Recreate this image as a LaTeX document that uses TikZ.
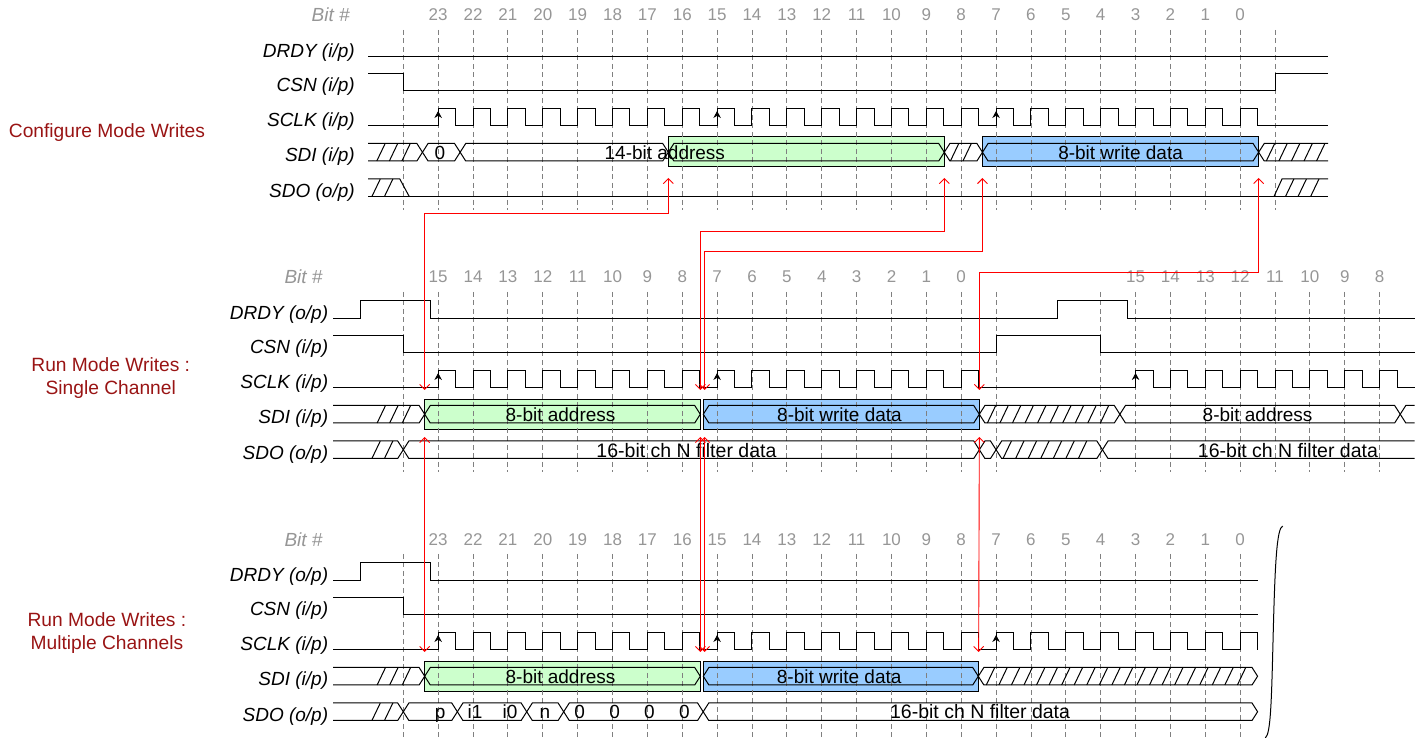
\documentclass[tikz,border=0pt]{standalone}
\usepackage{fontspec}
\setmainfont{Liberation Sans}
\usetikzlibrary{arrows.meta,calc}
\definecolor{mode_red}{RGB}{153, 20, 20}
\definecolor{bit_gray}{RGB}{150, 150, 150}
\definecolor{grid_gray}{RGB}{128, 128, 128}
\definecolor{addr_green}{RGB}{204, 255, 204}
\definecolor{data_blue}{RGB}{153, 204, 255}
\tikzstyle{sig}=[line width=1pt,black]
\tikzstyle{gridln}=[grid_gray,line width=0.9pt,dash pattern=on 5pt off 3.5pt]
\tikzstyle{sigl}=[anchor=base east,inner sep=0pt,font=\fontsize{19}{22}\selectfont\itshape]
\tikzstyle{bitn}=[inner sep=0pt,text=bit_gray,font=\fontsize{17}{20}\selectfont]
\tikzstyle{bith}=[anchor=east,inner sep=0pt,text=bit_gray,font=\fontsize{19}{22}\selectfont\itshape]
\tikzstyle{ttl}=[align=center,inner sep=0pt,text=mode_red,font=\fontsize{19.2}{22.6}\selectfont]
\tikzstyle{dat}=[anchor=base,inner sep=0pt,font=\fontsize{19}{22}\selectfont]
\tikzstyle{datw}=[anchor=base,inner sep=0pt,font=\fontsize{19.5}{23}\selectfont]
\tikzstyle{gbox}=[fill=addr_green,draw=black,line width=0.8pt]
\tikzstyle{bbox}=[fill=data_blue,draw=black,line width=0.8pt]
\tikzstyle{rd}=[red,line width=0.9pt,{Straight Barb[length=5pt,width=10pt]}-{Straight Barb[length=5pt,width=10pt]}]
\tikzstyle{edg}=[-{Stealth[length=7pt,width=7.5pt]},line width=0.8pt]
\newcommand{\busseg}[4]{\draw[sig] (#1,{(#3+#4)/2}) -- ({#1+0.16},#3) -- ({#2-0.16},#3) -- (#2,{(#3+#4)/2}) -- ({#2-0.16},#4) -- ({#1+0.16},#4) -- cycle;}
\newcommand{\busin}[4]{\draw[sig] (#1,#3) -- ({#2-0.16},#3) -- (#2,{(#3+#4)/2}) -- ({#2-0.16},#4) -- (#1,#4);}
\newcommand{\busout}[4]{\draw[sig] (#2,#3) -- ({#1+0.16},#3) -- (#1,{(#3+#4)/2}) -- ({#1+0.16},#4) -- (#2,#4);}
\newcommand{\hatchseg}[4]{\pgfmathtruncatemacro\hn{floor((#2-#1-0.24)/0.36)}%
  \foreach \k in {0,...,\hn}{\draw[sig] ({#1+0.36*\k},#4) -- ({#1+0.36*\k+0.24},#3);}}

\begin{document}
\begin{tikzpicture}[x=34.87pt, y=-1pt]
    \useasboundingbox (-11.566,0) rectangle (29.272,738);

    % configure mode
    \node [style=ttl] (t1) at (-8.5, 133) {Configure Mode Writes};
    \node [style=bith] (h1) at (-1.53, 15) {Bit \#};
    \node [style=sigl] (l11) at (-1.387, 57.3) {DRDY (i/p)};
    \node [style=sigl] (l12) at (-1.387, 92) {CSN (i/p)};
    \node [style=sigl] (l13) at (-1.387, 127) {SCLK (i/p)};
    \node [style=sigl] (l14) at (-1.387, 162) {SDI (i/p)};
    \node [style=sigl] (l15) at (-1.387, 197.5) {SDO (o/p)};
    \foreach \i in {1,...,24} {\pgfmathtruncatemacro\bn{24-\i}
        \node [style=bitn] (a\i) at (\i, 15) {\bn};}
    \draw [style=gbox] (7.6, 136.7) rectangle (15.515, 166.7);
    \draw [style=bbox] (16.61, 136.7) rectangle (24.53, 166.7);
    \foreach \i in {0,...,25} \draw [style=gridln] (\i, 30) -- (\i, 210);
    \draw [style=sig] (-1.012, 56.3) -- (26.52, 56.3);
    \draw [style=sig] (-1.012, 73.5) -- (0, 73.5) -- (0, 91) -- (25, 91) -- (25, 73.5) -- (26.52, 73.5);
    \draw [style=sig] (-1.012, 126) -- (1, 126) (25, 126) -- (26.52, 126);
    \foreach \i in {1,...,24} \draw [style=sig] (\i, 126) -- (\i, 108.5) -- (\i+0.5, 108.5) -- (\i+0.5, 126) -- (\i+1, 126);
    \foreach \i in {1,9,17} \draw [style=edg] (\i, 124) -- (\i, 111);
    \busin{-1.012}{0.55}{143.5}{161} \hatchseg{-0.76}{0.39}{143.5}{161}
    \busseg{0.55}{1.63}{143.5}{161}
    \busseg{1.63}{7.6}{143.5}{161}
    \busseg{7.6}{15.515}{143.5}{161}
    \busseg{15.515}{16.61}{143.5}{161} \hatchseg{15.69}{16.45}{143.5}{161}
    \busseg{16.61}{24.53}{143.5}{161}
    \busout{24.53}{26.52}{143.5}{161} \hatchseg{24.75}{26.5}{143.5}{161}
    \draw [style=sig] (-1.012, 179) -- (-0.1, 179) -- (0.17, 196.5);
    \draw [style=sig] (-1.012, 196.5) -- (26.52, 196.5);
    \draw [style=sig] (24.97, 196.5) -- (25.2, 179) -- (26.52, 179);
    \hatchseg{-0.9}{-0.1}{179}{196.5} \hatchseg{25.3}{26.5}{179}{196.5}
    \node [style=dat] (v0) at (1.05, 159.25) {0};
    \node [style=dat] (v1) at (7.5, 159.25) {14-bit address};
    \node [style=dat] (v2) at (20.57, 159.25) {8-bit write data};

    % run mode, single channel
    \begin{scope}[shift={(0,262)}]
    \node [style=ttl] (t2) at (-8.39, 116) {Run Mode Writes :\\Single Channel};
    \node [style=bith] (h2) at (-2.31, 15) {Bit \#};
    \node [style=sigl] (l21) at (-2.15, 57.3) {DRDY (o/p)};
    \node [style=sigl] (l22) at (-2.15, 92) {CSN (i/p)};
    \node [style=sigl] (l23) at (-2.15, 127) {SCLK (i/p)};
    \node [style=sigl] (l24) at (-2.15, 162) {SDI (i/p)};
    \node [style=sigl] (l25) at (-2.15, 197.5) {SDO (o/p)};
    \foreach \i in {1,...,16} {\pgfmathtruncatemacro\bn{16-\i}
        \node [style=bitn] (b\i) at (\i, 15) {\bn};}
    \foreach \i in {21,...,28} {\pgfmathtruncatemacro\bn{36-\i}
        \node [style=bitn] (b\i) at (\i, 15) {\bn};}
    \draw [style=gbox] (0.614, 137) rectangle (8.517, 167.3);
    \draw [style=bbox] (8.603, 137) rectangle (16.52, 167.3);
    \foreach \i in {0,...,17,20,21,...,28} \draw [style=gridln] (\i, 30) -- (\i, 210);
    \draw [style=sig] (-2.016, 56.3) -- (-1.233, 56.3) -- (-1.233, 38.7) -- (0.766, 38.7) -- (0.766, 56.3)
        -- (18.77, 56.3) -- (18.77, 38.7) -- (20.77, 38.7) -- (20.77, 56.3) -- (29, 56.3);
    \draw [style=sig] (-2.016, 73.5) -- (0, 73.5) -- (0, 91) -- (17, 91) -- (17, 73.5) -- (20, 73.5) -- (20, 91) -- (29, 91);
    \draw [style=sig] (-2.016, 126) -- (1, 126) (17, 126) -- (21, 126);
    \foreach \i in {1,...,16,21,22,...,28} \draw [style=sig] (\i, 126) -- (\i, 108.5) -- (\i+0.5, 108.5) -- (\i+0.5, 126) -- (\i+1, 126);
    \foreach \i in {1,9,21} \draw [style=edg] (\i, 124) -- (\i, 111);
    \busin{-2.016}{0.614}{143.5}{161} \hatchseg{-0.75}{0.45}{143.5}{161}
    \busseg{0.614}{8.517}{143.5}{161}
    \busseg{8.603}{16.52}{143.5}{161}
    \busseg{16.52}{20.55}{143.5}{161} \hatchseg{16.75}{20.3}{143.5}{161}
    \busseg{20.55}{28.59}{143.5}{161}
    \busout{28.59}{29}{143.5}{161}
    \busin{-2.016}{0}{179}{196.5} \hatchseg{-0.9}{-0.12}{179}{196.5}
    \busseg{0}{16.52}{179}{196.5}
    \busseg{16.52}{17}{179}{196.5}
    \busseg{17}{20.05}{179}{196.5} \hatchseg{17.2}{19.85}{179}{196.5}
    \busout{20.05}{29}{179}{196.5}
    \node [style=dat] (w1) at (4.51, 159.25) {8-bit address};
    \node [style=dat] (w2) at (12.51, 159.25) {8-bit write data};
    \node [style=dat] (w3) at (24.5, 159.25) {8-bit address};
    \node [style=datw] (w4) at (8.12, 195.3) {16-bit ch N filter data};
    \node [style=datw] (w5) at (25.37, 195.3) {16-bit ch N filter data};
    \end{scope}

    % run mode, multiple channels
    \begin{scope}[shift={(0,524)}]
    \node [style=ttl] (t3) at (-8.5, 108.8) {Run Mode Writes :\\Multiple Channels};
    \node [style=bith] (h3) at (-2.31, 16) {Bit \#};
    \node [style=sigl] (l31) at (-2.15, 57.3) {DRDY (o/p)};
    \node [style=sigl] (l32) at (-2.15, 92) {CSN (i/p)};
    \node [style=sigl] (l33) at (-2.15, 127) {SCLK (i/p)};
    \node [style=sigl] (l34) at (-2.15, 162) {SDI (i/p)};
    \node [style=sigl] (l35) at (-2.15, 197.5) {SDO (o/p)};
    \foreach \i in {1,...,24} {\pgfmathtruncatemacro\bn{24-\i}
        \node [style=bitn] (c\i) at (\i, 16) {\bn};}
    \draw [style=gbox] (0.614, 137) rectangle (8.517, 167.3);
    \draw [style=bbox] (8.603, 137) rectangle (16.49, 167.3);
    \foreach \i in {0,...,24} \draw [style=gridln] (\i, 30) -- (\i, 214);
    \draw [style=sig] (-2.016, 56.3) -- (-1.233, 56.3) -- (-1.233, 38.7) -- (0.766, 38.7) -- (0.766, 56.3) -- (24.5, 56.3);
    \draw [style=sig] (-2.016, 73.5) -- (0, 73.5) -- (0, 91) -- (24.5, 91);
    \draw [style=sig] (-2.016, 126) -- (1, 126);
    \foreach \i in {1,...,23} \draw [style=sig] (\i, 126) -- (\i, 108.5) -- (\i+0.5, 108.5) -- (\i+0.5, 126) -- (\i+1, 126);
    \draw [style=sig] (24, 126) -- (24, 108.5) -- (24.5, 108.5) -- (24.5, 126);
    \foreach \i in {1,9,17} \draw [style=edg] (\i, 124) -- (\i, 111);
    \busin{-2.016}{0.614}{143.5}{161} \hatchseg{-0.75}{0.45}{143.5}{161}
    \busseg{0.614}{8.517}{143.5}{161}
    \busseg{8.603}{16.49}{143.5}{161}
    \busseg{16.49}{24.5}{143.5}{161} \hatchseg{16.72}{24.3}{143.5}{161}
    \busin{-2.016}{0}{179}{196.5} \hatchseg{-0.9}{-0.12}{179}{196.5}
    \busseg{0}{1.55}{179}{196.5}
    \busseg{1.55}{3.54}{179}{196.5}
    \busseg{3.54}{4.6}{179}{196.5}
    \busseg{4.6}{8.6}{179}{196.5}
    \busseg{8.6}{24.5}{179}{196.5}
    \node [style=dat] (x1) at (4.51, 159.25) {8-bit address};
    \node [style=dat] (x2) at (12.5, 159.25) {8-bit write data};
    \node [style=dat] (q1) at (1.06, 194.5) {p};
    \node [style=dat] (q2) at (2.06, 194.5) {i1};
    \node [style=dat] (q3) at (3.06, 194.5) {i0};
    \node [style=dat] (q4) at (4.06, 194.5) {n};
    \foreach \i in {5,...,8} \node [style=dat] (q\i) at (\i+0.06, 194.5) {0};
    \node [style=datw] (x3) at (16.54, 195) {16-bit ch N filter data};
    \draw [style=sig] (25.22, 2) .. controls (25.05, 4) and (25.0, 40) .. (24.95, 106)
        .. controls (24.9, 176) and (24.88, 210) .. (24.72, 214);
    \end{scope}

    % red timing links
    \coordinate (u1) at (7.6, 178);
    \coordinate (u2) at (15.515, 178);
    \coordinate (u3) at (16.61, 178);
    \coordinate (u4) at (24.53, 178);
    \coordinate (d1) at (0.614, 390);
    \coordinate (d2) at (8.52, 390);
    \coordinate (d3) at (8.64, 390);
    \coordinate (d4) at (16.52, 390);
    \coordinate (s1) at (0.614, 437);
    \coordinate (s2) at (8.52, 437);
    \coordinate (s3) at (8.64, 437);
    \coordinate (s4) at (16.52, 437);
    \coordinate (e1) at (0.614, 652);
    \coordinate (e2) at (8.52, 652);
    \coordinate (e3) at (8.64, 652);
    \coordinate (e4) at (16.5, 652);
    \draw [style=rd] (u1) -- ++(0, 35.3) -| (d1);
    \draw [style=rd] (u2) -- ++(0, 53) -| (d2);
    \draw [style=rd] (u3) -- ++(0, 73.7) -| (d3);
    \draw [style=rd] (u4) -- ++(0, 94.3) -| (d4);
    \foreach \n in {1,...,4} \draw [style=rd] (s\n) -- (e\n);
\end{tikzpicture}
\end{document}
